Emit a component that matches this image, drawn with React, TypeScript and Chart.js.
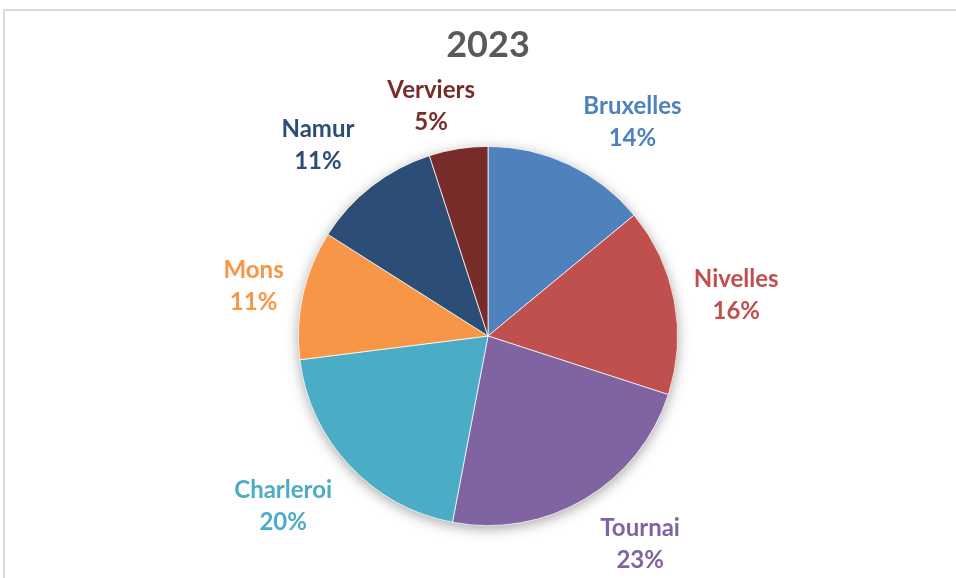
import React, { useEffect, useRef } from "react";
import { Chart, registerables } from "chart.js";

Chart.register(...registerables);

const title = "2023";
const categories = ["Bruxelles", "Nivelles", "Tournai", "Charleroi", "Mons", "Namur", "Verviers"];
const values = [14, 16, 23, 20, 11, 11, 5];
const colors = ["#4F81BD", "#C0504D", "#8064A2", "#4BACC6", "#F79646", "#2C4D75", "#772C2A"];

// label placement relative to each slice's mid-angle (degrees) and distance beyond the rim (px)
const labelAngleShift = [8.9, 1.4, -5.6, 3.4, -0.6, -3.9, -4.9];
const labelRimGap = [68, 62, 68, 77, 50, 66, 47];

const FONT = "Lato, 'Open Sans', sans-serif";

const pieDecor = {
  id: "pieDecor",
  beforeDatasetsDraw(chart: any) {
    const meta = chart.getDatasetMeta(0);
    const arc = meta.data[0];
    if (!arc) return;
    const { x, y, outerRadius } = arc.getProps(["x", "y", "outerRadius"], true);
    const ctx = chart.ctx;
    ctx.save();
    ctx.shadowColor = "rgba(0,0,0,0.4)";
    ctx.shadowBlur = 14;
    ctx.shadowOffsetX = 0;
    ctx.shadowOffsetY = 3;
    ctx.fillStyle = "#ffffff";
    ctx.beginPath();
    ctx.arc(x, y, outerRadius - 1, 0, Math.PI * 2);
    ctx.fill();
    ctx.restore();
  },
  afterDatasetsDraw(chart: any) {
    const ctx = chart.ctx;
    const meta = chart.getDatasetMeta(0);
    const total = values.reduce((a, b) => a + b, 0);
    ctx.save();
    // title
    const cx = (chart.chartArea.left + chart.chartArea.right) / 2;
    ctx.fillStyle = "#595959";
    ctx.font = `bold 36px ${FONT}`;
    ctx.textAlign = "center";
    ctx.textBaseline = "middle";
    ctx.fillText(title, cx, 45);
    // labels
    meta.data.forEach((el: any, i: number) => {
      const p = el.getProps(["x", "y", "startAngle", "endAngle", "outerRadius"], true);
      const mid = (p.startAngle + p.endAngle) / 2 + (labelAngleShift[i] * Math.PI) / 180;
      const d = p.outerRadius + labelRimGap[i];
      const lx = p.x + Math.cos(mid) * d;
      const ly = p.y + Math.sin(mid) * d;
      ctx.fillStyle = colors[i];
      ctx.font = `bold 24px ${FONT}`;
      ctx.textAlign = "center";
      ctx.textBaseline = "middle";
      ctx.fillText(categories[i], lx, ly - 16);
      ctx.fillText(Math.round((values[i] / total) * 100) + "%", lx, ly + 16);
    });
    ctx.restore();
  },
};

export default function App() {
  const ref = useRef<HTMLCanvasElement>(null);
  useEffect(() => {
    if (!ref.current) return;
    const chart = new Chart(ref.current, {
      type: "pie",
      data: {
        labels: categories,
        datasets: [
          {
            data: values,
            backgroundColor: colors,
            borderColor: "#ffffff",
            borderWidth: 0.75,
          },
        ],
      },
      options: {
        animation: false,
        responsive: false,
        maintainAspectRatio: false,
        layout: { padding: { left: 100, right: 80, top: 146, bottom: 52 } },
        plugins: {
          legend: { display: false },
          title: { display: false },
          tooltip: { enabled: false },
        },
      },
      plugins: [pieDecor],
    });
    return () => chart.destroy();
  }, []);
  return (
    <div style={{ position: "absolute", left: 0, top: 0, width: 956, height: 578, background: "#fff", overflow: "hidden" }}>
      <div
        style={{
          position: "absolute",
          left: 3,
          top: 9,
          right: -10,
          bottom: -10,
          borderTop: "2px solid #d9d9d9",
          borderLeft: "2px solid #d9d9d9",
        }}
      />
      <canvas ref={ref} width={956} height={578} style={{ position: "absolute", left: 0, top: 0, display: "block" }} />
    </div>
  );
}
